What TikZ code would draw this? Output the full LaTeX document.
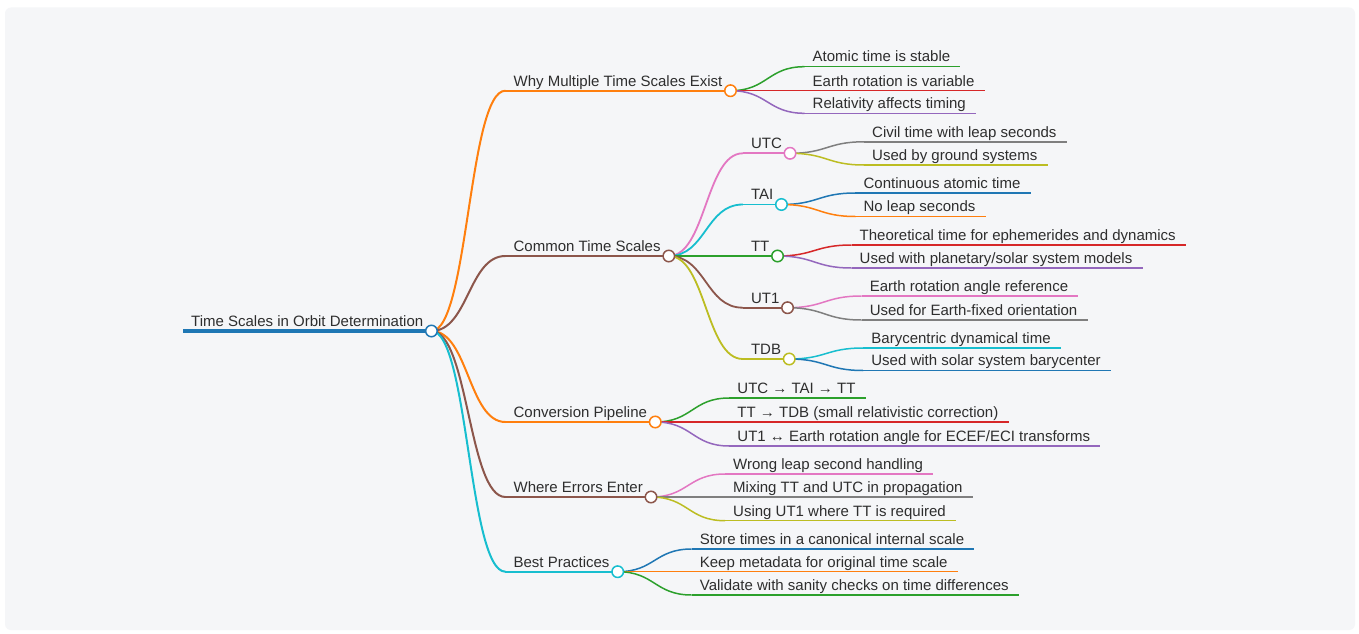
\documentclass[tikz,border=0pt]{standalone}
\usepackage{fontspec}
\setmainfont{Liberation Sans}
\usetikzlibrary{calc}

\definecolor{mblue}{HTML}{1F77B4}
\definecolor{morange}{HTML}{FF7F0E}
\definecolor{mgreen}{HTML}{2CA02C}
\definecolor{mred}{HTML}{D62728}
\definecolor{mpurple}{HTML}{9467BD}
\definecolor{mbrown}{HTML}{8C564B}
\definecolor{mpink}{HTML}{E377C2}
\definecolor{mgray}{HTML}{7F7F7F}
\definecolor{molive}{HTML}{BCBD22}
\definecolor{mcyan}{HTML}{17BECF}
\definecolor{ink}{HTML}{2E2E2E}
\definecolor{paper}{HTML}{F5F6F8}

\tikzset{
	topic/.style={anchor=south west, inner xsep=8pt, inner ysep=4.5pt,
			text depth=0pt, text=ink, font=\fontsize{15}{18}\selectfont},
	link/.style={to path={.. controls +(37,0) and +(-37,0) .. (\tikztotarget)}},
	knob/.style={circle, fill=white, line width=1.5pt, minimum size=11.5pt, inner sep=0pt},
	lvl0/.style={line width=3.2pt},
	lvl1/.style={line width=2pt},
	lvl2/.style={line width=1.8pt},
	lvl3/.style={line width=1.5pt}
}

\begin{document}
\begin{tikzpicture}[x=1pt, y=-1pt]
	\useasboundingbox (0,0) rectangle (1359,634);
	\fill[white] (0,0) rectangle (1359,634);
	\fill[paper, rounded corners=6pt] (5,7.5) rectangle (1355,630);

	% topics
	\node[topic] (root) at (183,331) {Time Scales in Orbit Determination};

	\node[topic] (why) at ([xshift=74pt]root.south east |- 0,90.7) {Why Multiple Time Scales Exist};
	\node[topic] (common) at ([xshift=74pt]root.south east |- 0,256) {Common Time Scales};
	\node[topic] (conv) at ([xshift=74pt]root.south east |- 0,422) {Conversion Pipeline};
	\node[topic] (errors) at ([xshift=74pt]root.south east |- 0,497) {Where Errors Enter};
	\node[topic] (best) at ([xshift=74pt]root.south east |- 0,571.7) {Best Practices};

	\node[topic] (atomic) at ([xshift=74pt]why.south east |- 0,66.7) {Atomic time is stable};
	\node[topic] (earthvar) at ([xshift=74pt]why.south east |- 0,90.7) {Earth rotation is variable};
	\node[topic] (relat) at ([xshift=74pt]why.south east |- 0,113.3) {Relativity affects timing};

	\node[topic] (utc) at ([xshift=74pt]common.south east |- 0,153.3) {UTC};
	\node[topic] (tai) at ([xshift=74pt]common.south east |- 0,204.5) {TAI};
	\node[topic] (tt) at ([xshift=74pt]common.south east |- 0,256) {TT};
	\node[topic] (ut1) at ([xshift=74pt]common.south east |- 0,307.7) {UT1};
	\node[topic] (tdb) at ([xshift=74pt]common.south east |- 0,359) {TDB};

	\node[topic] (civil) at ([xshift=74pt]utc.south east |- 0,141.8) {Civil time with leap seconds};
	\node[topic] (ground) at ([xshift=74pt]utc.south east |- 0,165) {Used by ground systems};
	\node[topic] (contin) at ([xshift=74pt]tai.south east |- 0,193) {Continuous atomic time};
	\node[topic] (noleap) at ([xshift=74pt]tai.south east |- 0,216.5) {No leap seconds};
	\node[topic] (theor) at ([xshift=74pt]tt.south east |- 0,245) {Theoretical time for ephemerides and dynamics};
	\node[topic] (planet) at ([xshift=74pt]tt.south east |- 0,268) {Used with planetary/solar system models};
	\node[topic] (eangle) at ([xshift=74pt]ut1.south east |- 0,296) {Earth rotation angle reference};
	\node[topic] (efixed) at ([xshift=74pt]ut1.south east |- 0,320) {Used for Earth-fixed orientation};
	\node[topic] (bary) at ([xshift=74pt]tdb.south east |- 0,348) {Barycentric dynamical time};
	\node[topic] (solar) at ([xshift=74pt]tdb.south east |- 0,370.5) {Used with solar system barycenter};

	\node[topic] (chain) at ([xshift=74pt]conv.south east |- 0,398) {UTC → TAI → TT};
	\node[topic] (totdb) at ([xshift=74pt]conv.south east |- 0,422) {TT → TDB (small relativistic correction)};
	\node[topic] (toeci) at ([xshift=74pt]conv.south east |- 0,446) {UT1 ↔ Earth rotation angle for ECEF/ECI transforms};

	\node[topic] (wrong) at ([xshift=74pt]errors.south east |- 0,474) {Wrong leap second handling};
	\node[topic] (mixing) at ([xshift=74pt]errors.south east |- 0,497) {Mixing TT and UTC in propagation};
	\node[topic] (using) at ([xshift=74pt]errors.south east |- 0,520.7) {Using UT1 where TT is required};

	\node[topic] (store) at ([xshift=74pt]best.south east |- 0,549) {Store times in a canonical internal scale};
	\node[topic] (keep) at ([xshift=74pt]best.south east |- 0,571.7) {Keep metadata for original time scale};
	\node[topic] (valid) at ([xshift=74pt]best.south east |- 0,595) {Validate with sanity checks on time differences};

	% links
	\draw[lvl1, morange] (root.south east) to[link] (why.south west);
	\draw[lvl1, mbrown] (root.south east) to[link] (common.south west);
	\draw[lvl1, morange] (root.south east) to[link] (conv.south west);
	\draw[lvl1, mbrown] (root.south east) to[link] (errors.south west);
	\draw[lvl1, mcyan] (root.south east) to[link] (best.south west);

	\draw[lvl3, mgreen] (why.south east) to[link] (atomic.south west);
	\draw[lvl3, mred] (why.south east) to[link] (earthvar.south west);
	\draw[lvl3, mpurple] (why.south east) to[link] (relat.south west);

	\draw[lvl2, mpink] (common.south east) to[link] (utc.south west);
	\draw[lvl2, mcyan] (common.south east) to[link] (tai.south west);
	\draw[lvl2, mgreen] (common.south east) to[link] (tt.south west);
	\draw[lvl2, mbrown] (common.south east) to[link] (ut1.south west);
	\draw[lvl2, molive] (common.south east) to[link] (tdb.south west);

	\draw[lvl3, mgray] (utc.south east) to[link] (civil.south west);
	\draw[lvl3, molive] (utc.south east) to[link] (ground.south west);
	\draw[lvl3, mblue] (tai.south east) to[link] (contin.south west);
	\draw[lvl3, morange] (tai.south east) to[link] (noleap.south west);
	\draw[lvl3, mred] (tt.south east) to[link] (theor.south west);
	\draw[lvl3, mpurple] (tt.south east) to[link] (planet.south west);
	\draw[lvl3, mpink] (ut1.south east) to[link] (eangle.south west);
	\draw[lvl3, mgray] (ut1.south east) to[link] (efixed.south west);
	\draw[lvl3, mcyan] (tdb.south east) to[link] (bary.south west);
	\draw[lvl3, mblue] (tdb.south east) to[link] (solar.south west);

	\draw[lvl3, mgreen] (conv.south east) to[link] (chain.south west);
	\draw[lvl3, mred] (conv.south east) to[link] (totdb.south west);
	\draw[lvl3, mpurple] (conv.south east) to[link] (toeci.south west);

	\draw[lvl3, mpink] (errors.south east) to[link] (wrong.south west);
	\draw[lvl3, mgray] (errors.south east) to[link] (mixing.south west);
	\draw[lvl3, molive] (errors.south east) to[link] (using.south west);

	\draw[lvl3, mblue] (best.south east) to[link] (store.south west);
	\draw[lvl3, morange] (best.south east) to[link] (keep.south west);
	\draw[lvl3, mgreen] (best.south east) to[link] (valid.south west);

	% underlines
	\draw[lvl0, mblue] (root.south west) -- (root.south east);
	\draw[lvl1, morange] (why.south west) -- (why.south east);
	\draw[lvl1, mbrown] (common.south west) -- (common.south east);
	\draw[lvl1, morange] (conv.south west) -- (conv.south east);
	\draw[lvl1, mbrown] (errors.south west) -- (errors.south east);
	\draw[lvl1, mcyan] (best.south west) -- (best.south east);

	\draw[lvl2, mpink] (utc.south west) -- (utc.south east);
	\draw[lvl2, mcyan] (tai.south west) -- (tai.south east);
	\draw[lvl2, mgreen] (tt.south west) -- (tt.south east);
	\draw[lvl2, mbrown] (ut1.south west) -- (ut1.south east);
	\draw[lvl2, molive] (tdb.south west) -- (tdb.south east);

	\draw[lvl3, mgreen] (atomic.south west) -- ([xshift=2pt]atomic.south east);
	\draw[lvl3, mred] (earthvar.south west) -- ([xshift=2pt]earthvar.south east);
	\draw[lvl3, mpurple] (relat.south west) -- ([xshift=2pt]relat.south east);
	\draw[lvl3, mgray] (civil.south west) -- ([xshift=2pt]civil.south east);
	\draw[lvl3, molive] (ground.south west) -- ([xshift=2pt]ground.south east);
	\draw[lvl3, mblue] (contin.south west) -- ([xshift=2pt]contin.south east);
	\draw[lvl3, morange] (noleap.south west) -- ([xshift=2pt]noleap.south east);
	\draw[lvl3, mred] (theor.south west) -- ([xshift=2pt]theor.south east);
	\draw[lvl3, mpurple] (planet.south west) -- ([xshift=2pt]planet.south east);
	\draw[lvl3, mpink] (eangle.south west) -- ([xshift=2pt]eangle.south east);
	\draw[lvl3, mgray] (efixed.south west) -- ([xshift=2pt]efixed.south east);
	\draw[lvl3, mcyan] (bary.south west) -- ([xshift=2pt]bary.south east);
	\draw[lvl3, mblue] (solar.south west) -- ([xshift=2pt]solar.south east);
	\draw[lvl3, mgreen] (chain.south west) -- ([xshift=2pt]chain.south east);
	\draw[lvl3, mred] (totdb.south west) -- ([xshift=2pt]totdb.south east);
	\draw[lvl3, mpurple] (toeci.south west) -- ([xshift=2pt]toeci.south east);
	\draw[lvl3, mpink] (wrong.south west) -- ([xshift=2pt]wrong.south east);
	\draw[lvl3, mgray] (mixing.south west) -- ([xshift=2pt]mixing.south east);
	\draw[lvl3, molive] (using.south west) -- ([xshift=2pt]using.south east);
	\draw[lvl3, mblue] (store.south west) -- ([xshift=2pt]store.south east);
	\draw[lvl3, morange] (keep.south west) -- ([xshift=2pt]keep.south east);
	\draw[lvl3, mgreen] (valid.south west) -- ([xshift=2pt]valid.south east);

	% knobs
	\node[knob, draw=mblue] (root-k) at (root.south east) {};
	\node[knob, draw=morange] (why-k) at (why.south east) {};
	\node[knob, draw=mbrown] (common-k) at (common.south east) {};
	\node[knob, draw=morange] (conv-k) at (conv.south east) {};
	\node[knob, draw=mbrown] (errors-k) at (errors.south east) {};
	\node[knob, draw=mcyan] (best-k) at (best.south east) {};
	\node[knob, draw=mpink] (utc-k) at (utc.south east) {};
	\node[knob, draw=mcyan] (tai-k) at (tai.south east) {};
	\node[knob, draw=mgreen] (tt-k) at (tt.south east) {};
	\node[knob, draw=mbrown] (ut1-k) at (ut1.south east) {};
	\node[knob, draw=molive] (tdb-k) at (tdb.south east) {};
\end{tikzpicture}
\end{document}
